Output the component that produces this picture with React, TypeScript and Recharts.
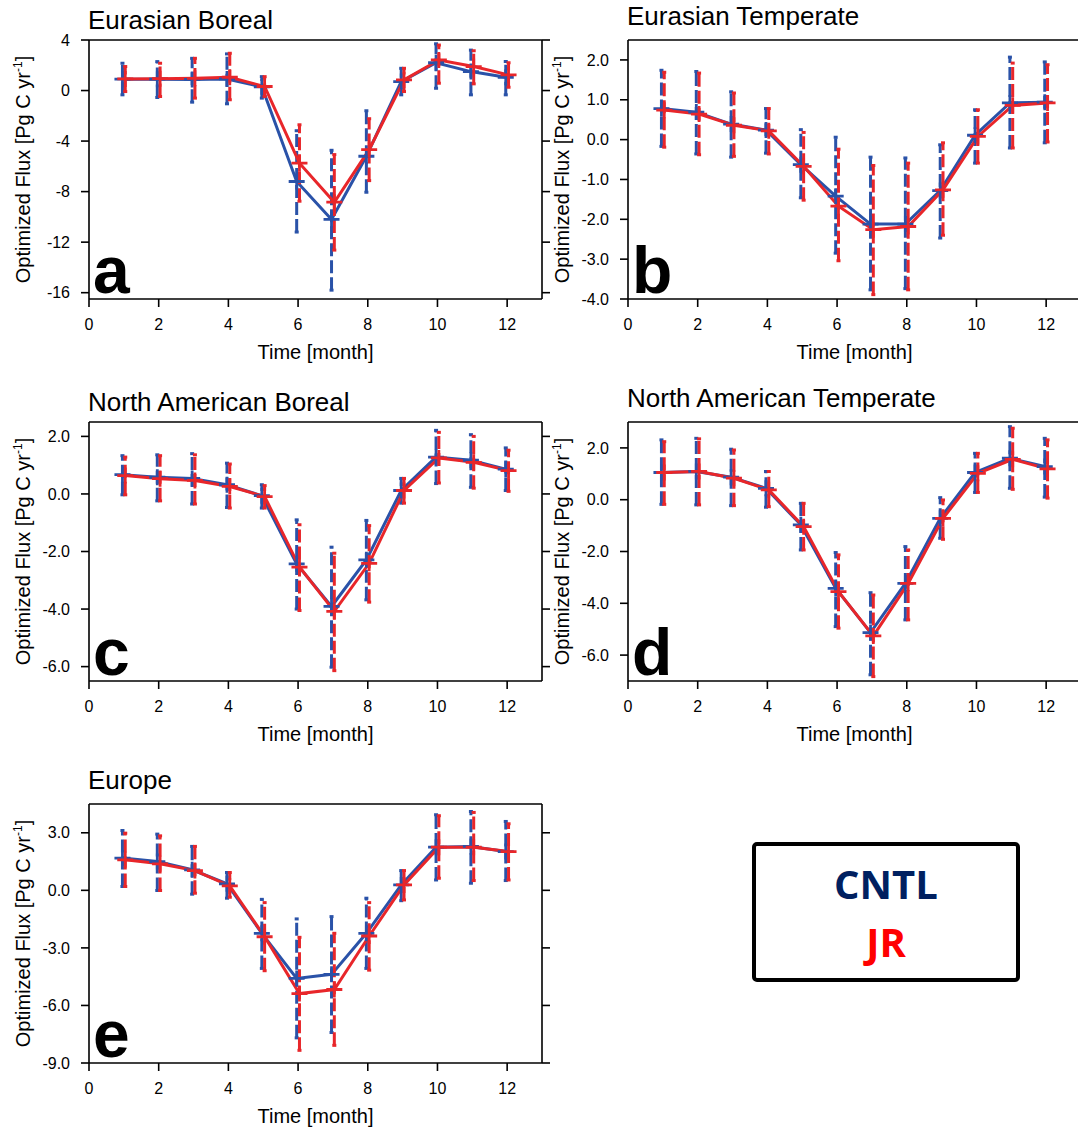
import React from 'react';
import { LineChart, Line, XAxis, YAxis, ErrorBar } from 'recharts';

const FONT = '"Liberation Sans", Arial, Helvetica, sans-serif';
const BLUE = '#2a52a8';
const RED = '#e8262a';

const MONTHS = [1, 2, 3, 4, 5, 6, 7, 8, 9, 10, 11, 12];
const X_TICKS = [0, 2, 4, 6, 8, 10, 12];

// a: Eurasian Boreal
const A_CNTL = [0.9, 0.9, 0.88, 0.92, 0.3, -7.2, -10.2, -5.2, 0.71, 2.2, 1.5, 1.05];
const A_CNTL_LO = [-0.34, -0.55, -0.92, -1.05, -0.6, -11.2, -15.8, -8.05, -0.34, 0.18, -0.34, -0.34];
const A_CNTL_HI = [2.16, 2.29, 2.55, 2.9, 1.1, -3.18, -4.73, -1.6, 1.76, 3.7, 3.2, 2.3];
const A_JR = [0.92, 0.94, 0.97, 1.05, 0.32, -5.75, -8.84, -4.68, 0.84, 2.42, 1.9, 1.24];
const A_JR_LO = [-0.08, -0.47, -0.6, -0.73, -0.47, -8.76, -12.63, -7.13, -0.08, 0.58, 0.53, 0.26];
const A_JR_HI = [1.9, 2.16, 2.55, 2.95, 1.1, -2.71, -5.07, -2.23, 1.76, 3.6, 3.15, 2.2];

// b: Eurasian Temperate
const B_CNTL = [0.78, 0.69, 0.39, 0.24, -0.63, -1.42, -2.12, -2.12, -1.28, 0.11, 0.92, 0.94];
const B_CNTL_LO = [-0.17, -0.36, -0.44, -0.34, -1.46, -2.85, -3.77, -3.74, -2.47, -0.59, -0.21, -0.08];
const B_CNTL_HI = [1.74, 1.71, 1.2, 0.78, 0.25, 0.06, -0.44, -0.46, -0.13, 0.75, 2.07, 1.95];
const B_JR = [0.74, 0.64, 0.36, 0.22, -0.67, -1.67, -2.26, -2.18, -1.26, 0.08, 0.86, 0.92];
const B_JR_LO = [-0.19, -0.38, -0.42, -0.36, -1.52, -3.04, -3.89, -3.77, -2.4, -0.59, -0.21, -0.06];
const B_JR_HI = [1.69, 1.67, 1.17, 0.78, 0.18, -0.24, -0.65, -0.59, -0.08, 0.75, 1.92, 1.88];

// c: North American Boreal
const C_CNTL = [0.67, 0.58, 0.54, 0.32, -0.06, -2.43, -3.91, -2.29, 0.12, 1.28, 1.17, 0.86];
const C_CNTL_LO = [-0.03, -0.24, -0.35, -0.47, -0.49, -4.0, -6.02, -3.68, -0.32, 0.36, 0.23, 0.12];
const C_CNTL_HI = [1.33, 1.36, 1.4, 1.07, 0.32, -0.9, -1.85, -0.92, 0.54, 2.21, 2.06, 1.6];
const C_JR = [0.64, 0.53, 0.47, 0.26, -0.09, -2.54, -4.08, -2.41, 0.12, 1.25, 1.1, 0.81];
const C_JR_LO = [-0.03, -0.24, -0.35, -0.49, -0.49, -4.05, -6.14, -3.76, -0.32, 0.38, 0.2, 0.09];
const C_JR_HI = [1.28, 1.33, 1.36, 1.04, 0.29, -1.07, -2.06, -1.1, 0.54, 2.14, 2.0, 1.52];

// d: North American Temperate
const D_CNTL = [1.05, 1.09, 0.87, 0.44, -0.97, -3.42, -5.13, -3.23, -0.72, 1.05, 1.6, 1.28];
const D_CNTL_LO = [-0.18, -0.2, -0.23, -0.29, -1.94, -4.9, -6.76, -4.64, -1.49, 0.28, 0.44, 0.1];
const D_CNTL_HI = [2.31, 2.37, 1.95, 1.09, -0.14, -2.04, -3.59, -1.81, 0.08, 1.79, 2.82, 2.37];
const D_JR = [1.05, 1.09, 0.83, 0.38, -1.04, -3.55, -5.26, -3.23, -0.72, 1.02, 1.56, 1.19];
const D_JR_LO = [-0.18, -0.2, -0.23, -0.27, -1.94, -4.96, -6.83, -4.64, -1.53, 0.28, 0.4, 0.06];
const D_JR_HI = [2.24, 2.35, 1.92, 1.09, -0.14, -2.13, -3.68, -1.94, -0.01, 1.79, 2.76, 2.31];

// e: Europe
const E_CNTL = [1.68, 1.5, 1.07, 0.34, -2.24, -4.59, -4.38, -2.24, 0.28, 2.25, 2.29, 2.02];
const E_CNTL_LO = [0.2, -0.01, -0.2, -0.41, -4.07, -7.69, -7.41, -4.07, -0.54, 0.54, 0.37, 0.51];
const E_CNTL_HI = [3.12, 2.93, 2.29, 0.93, -0.47, -1.49, -1.37, -0.41, 1.03, 3.94, 4.11, 3.59];
const E_JR = [1.59, 1.38, 1.03, 0.23, -2.42, -5.38, -5.17, -2.38, 0.28, 2.25, 2.25, 2.02];
const E_JR_LO = [0.2, -0.01, -0.15, -0.36, -4.19, -8.34, -8.08, -4.16, -0.5, 0.63, 0.51, 0.54];
const E_JR_HI = [2.98, 2.84, 2.29, 0.93, -0.64, -2.45, -2.24, -0.64, 1.03, 3.89, 4.06, 3.47];

// plot frame geometry (px)
const PLOT_W = 453;
const PLOT_H = 259;
const AX_L = 89;
const AX_R = 20;
const M_T = 10;
const AX_T = 30;
const AX_B = 70;
const SHIFT = 0.04; // small side offset so both error bars stay visible

type Series = { mean: number[]; lo: number[]; hi: number[] };

const toPoints = (s: Series, shift: number) =>
  MONTHS.map((m, i) => ({
    x: m + shift,
    y: s.mean[i],
    err: [s.mean[i] - s.lo[i], s.hi[i] - s.mean[i]],
  }));

const plusDot = (color: string) => (props: any) => {
  const { cx, cy, index } = props;
  if (cx == null || cy == null) return <g key={`n${index}`} />;
  return (
    <path
      key={`p${index}`}
      d={`M${cx - 8},${cy}H${cx + 8}M${cx},${cy - 8}V${cy + 8}`}
      stroke={color}
      strokeWidth={2.8}
      fill="none"
    />
  );
};

interface PanelDef {
  title: string;
  letter: string;
  left: number; // frame left
  top: number; // frame top
  titleLift: number;
  domain: [number, number];
  ticks: number[];
  decimals: number;
  cntl: Series;
  jr: Series;
}

const PANELS: PanelDef[] = [
  {
    title: 'Eurasian Boreal', letter: 'a', left: 89, top: 40, titleLift: 11,
    domain: [-16.5, 4], ticks: [-16, -12, -8, -4, 0, 4], decimals: 0,
    cntl: { mean: A_CNTL, lo: A_CNTL_LO, hi: A_CNTL_HI },
    jr: { mean: A_JR, lo: A_JR_LO, hi: A_JR_HI },
  },
  {
    title: 'Eurasian Temperate', letter: 'b', left: 628, top: 40, titleLift: 15,
    domain: [-4, 2.5], ticks: [-4, -3, -2, -1, 0, 1, 2], decimals: 1,
    cntl: { mean: B_CNTL, lo: B_CNTL_LO, hi: B_CNTL_HI },
    jr: { mean: B_JR, lo: B_JR_LO, hi: B_JR_HI },
  },
  {
    title: 'North American Boreal', letter: 'c', left: 89, top: 422, titleLift: 11,
    domain: [-6.5, 2.5], ticks: [-6, -4, -2, 0, 2], decimals: 1,
    cntl: { mean: C_CNTL, lo: C_CNTL_LO, hi: C_CNTL_HI },
    jr: { mean: C_JR, lo: C_JR_LO, hi: C_JR_HI },
  },
  {
    title: 'North American Temperate', letter: 'd', left: 628, top: 422, titleLift: 15,
    domain: [-7, 3], ticks: [-6, -4, -2, 0, 2], decimals: 1,
    cntl: { mean: D_CNTL, lo: D_CNTL_LO, hi: D_CNTL_HI },
    jr: { mean: D_JR, lo: D_JR_LO, hi: D_JR_HI },
  },
  {
    title: 'Europe', letter: 'e', left: 89, top: 804, titleLift: 15,
    domain: [-9, 4.5], ticks: [-9, -6, -3, 0, 3], decimals: 1,
    cntl: { mean: E_CNTL, lo: E_CNTL_LO, hi: E_CNTL_HI },
    jr: { mean: E_JR, lo: E_JR_LO, hi: E_JR_HI },
  },
];

const tickStyle = { fill: '#000', fontSize: 16, fontFamily: FONT };
const axisStroke = { stroke: '#000', strokeWidth: 1.6 };

function Panel({ p }: { p: PanelDef }) {
  const fmt = (v: number) => v.toFixed(p.decimals);
  const blank = () => '';
  return (
    <div style={{ position: 'absolute', left: p.left - AX_L, top: p.top - M_T - AX_T }}>
      <LineChart
        width={AX_L + PLOT_W + AX_R}
        height={M_T + AX_T + PLOT_H + AX_B}
        margin={{ top: M_T, right: 0, bottom: 0, left: 0 }}
      >
        <XAxis
          xAxisId="b" type="number" dataKey="x" domain={[0, 13]} ticks={X_TICKS}
          orientation="bottom" height={AX_B} tickSize={8} tickMargin={12}
          axisLine={axisStroke} tickLine={axisStroke} tick={tickStyle} fontSize={16}
          allowDataOverflow
        />
        <XAxis
          xAxisId="t" type="number" domain={[0, 13]} ticks={X_TICKS}
          orientation="top" height={AX_T} tickSize={8} tickFormatter={blank}
          axisLine={axisStroke} tickLine={axisStroke} allowDataOverflow
        />
        <YAxis
          yAxisId="l" type="number" domain={p.domain} ticks={p.ticks}
          orientation="left" width={AX_L} tickSize={8} tickMargin={11}
          tickFormatter={fmt} axisLine={axisStroke} tickLine={axisStroke} tick={tickStyle}
          fontSize={16} allowDataOverflow
        />
        <YAxis
          yAxisId="r" type="number" domain={p.domain} ticks={p.ticks}
          orientation="right" width={AX_R} tickSize={8} tickFormatter={blank}
          axisLine={axisStroke} tickLine={axisStroke} allowDataOverflow
        />
        <Line
          xAxisId="b" yAxisId="l" data={toPoints(p.cntl, -SHIFT)} dataKey="y" type="linear"
          stroke={BLUE} strokeWidth={3} dot={plusDot(BLUE)} activeDot={false}
          isAnimationActive={false}
        >
          <ErrorBar
            dataKey="err" direction="y" width={2} stroke={BLUE} strokeWidth={3}
            strokeDasharray="13 4" isAnimationActive={false}
          />
        </Line>
        <Line
          xAxisId="b" yAxisId="l" data={toPoints(p.jr, SHIFT)} dataKey="y" type="linear"
          stroke={RED} strokeWidth={3} dot={plusDot(RED)} activeDot={false}
          isAnimationActive={false}
        >
          <ErrorBar
            dataKey="err" direction="y" width={2} stroke={RED} strokeWidth={3}
            strokeDasharray="13 4" isAnimationActive={false}
          />
        </Line>
      </LineChart>
    </div>
  );
}

function Annotations() {
  return (
    <svg
      width={1078}
      height={1127}
      style={{ position: 'absolute', left: 0, top: 0, pointerEvents: 'none' }}
      fontFamily={FONT}
    >
      {PANELS.map((p) => {
        const cx = p.left + PLOT_W / 2;
        const ly = p.top + PLOT_H / 2;
        const lx = p.left - 66;
        return (
          <g key={p.letter}>
            <text x={p.left - 1} y={p.top - p.titleLift} fontSize={26} fill="#000">
              {p.title}
            </text>
            <text x={p.left + 4} y={p.top + PLOT_H - 6} fontSize={66} fontWeight="bold" fill="#000">
              {p.letter}
            </text>
            <text x={cx} y={p.top + PLOT_H + 60} fontSize={20} textAnchor="middle" fill="#000">
              Time [month]
            </text>
            <text
              x={lx} y={ly} fontSize={20} textAnchor="middle" fill="#000"
              transform={`rotate(-90 ${lx} ${ly})`} dy={7}
            >
              Optimized Flux [Pg C yr
              <tspan fontSize={12} dy={-8}>-1</tspan>
              <tspan dy={8}>]</tspan>
            </text>
          </g>
        );
      })}
      <rect x={754} y={844} width={264} height={136} rx={3} fill="#fff" stroke="#000" strokeWidth={4} />
      <text x={886} y={899} textAnchor="middle" fontSize={40} fontWeight="bold" fill="#002060" fontFamily='"Open Sans", sans-serif'>
        CNTL
      </text>
      <text x={886} y={957} textAnchor="middle" fontSize={40} fontWeight="bold" fill="#ff0000" fontFamily='"Open Sans", sans-serif'>
        JR
      </text>
    </svg>
  );
}

export default function App() {
  return (
    <div
      style={{
        position: 'absolute', left: 0, top: 0, width: 1078, height: 1127,
        overflow: 'hidden', background: '#fff', fontFamily: FONT,
      }}
    >
      {PANELS.map((p) => (
        <Panel key={p.letter} p={p} />
      ))}
      <Annotations />
    </div>
  );
}
